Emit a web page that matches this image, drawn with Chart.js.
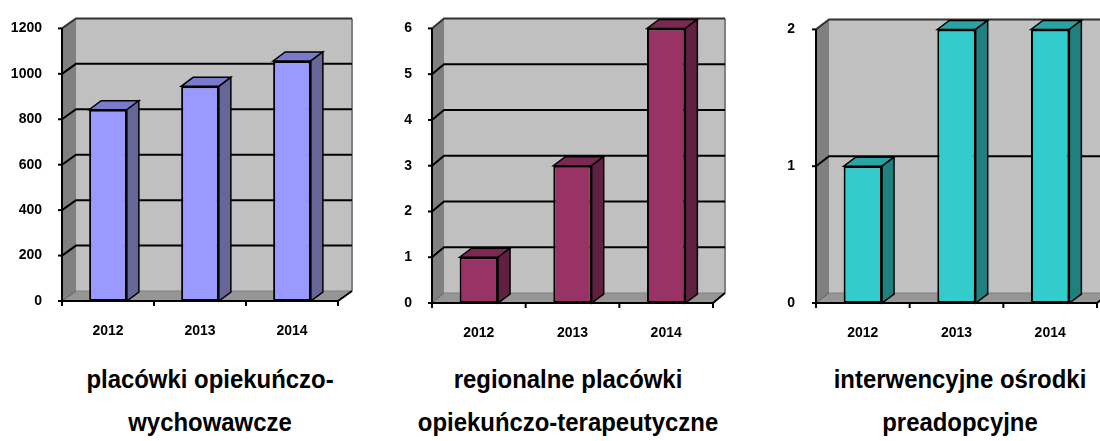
<!DOCTYPE html>
<html lang="pl">
<head>
<meta charset="utf-8">
<title>Placówki</title>
<script src="https://cdn.jsdelivr.net/npm/chart.js@4.4.1/dist/chart.umd.min.js"></script>
<style>
  html, body { margin: 0; padding: 0; background: #fff; }
  body { width: 1100px; height: 441px; position: relative; overflow: hidden; font-family: "Liberation Sans", Arial, sans-serif; }
  canvas { position: absolute; top: 0; }
  .tytul { position: absolute; width: 440px; margin-left: -220px; text-align: center; font-weight: bold; font-size: 26px; line-height: 43px; color: #000; top: 358px; transform: scaleX(0.92); }
</style>
</head>
<body>
<canvas id="wykres1" width="366" height="345" style="left:0px"></canvas>
<canvas id="wykres2" width="370" height="345" style="left:370px"></canvas>
<canvas id="wykres3" width="360" height="345" style="left:740px"></canvas>
<div class="tytul" style="left:210px">placówki opiekuńczo-<br>wychowawcze</div>
<div class="tytul" style="left:568px">regionalne placówki<br>opiekuńczo-terapeutyczne</div>
<div class="tytul" style="left:960px">interwencyjne ośrodki<br>preadopcyjne</div>

<script>
// ======= Dane =======
const lata = ["2012", "2013", "2014"];
const placowkiOW = [842, 945, 1057];
const regionalne = [1, 3, 6];
const interwencyjne = [1, 2, 2];
const maksOW = 1200, krokOW = 200;
const maksReg = 6, krokReg = 1;
const maksInt = 2, krokInt = 1;

// ======= Rysowanie 3D (ściany, podłoga, boki słupków) =======
function wielokat(ctx, pts, fill, stroke, lw) {
  ctx.beginPath();
  ctx.moveTo(pts[0][0], pts[0][1]);
  for (let i = 1; i < pts.length; i++) ctx.lineTo(pts[i][0], pts[i][1]);
  ctx.closePath();
  if (fill) { ctx.fillStyle = fill; ctx.fill(); }
  if (stroke) { ctx.strokeStyle = stroke; ctx.lineWidth = lw || 1; ctx.stroke(); }
}

function linia(ctx, pts, color, lw) {
  ctx.beginPath();
  ctx.moveTo(pts[0][0], pts[0][1]);
  for (let i = 1; i < pts.length; i++) ctx.lineTo(pts[i][0], pts[i][1]);
  ctx.strokeStyle = color;
  ctx.lineWidth = lw;
  ctx.stroke();
}

const efekt3d = {
  id: "efekt3d",
  beforeDatasetsDraw(chart, args, o) {
    const { ctx, chartArea: a, scales: { y } } = chart;
    const dx = o.dx, dy = o.dy;
    ctx.save();
    // tylna ściana
    ctx.fillStyle = "#c0c0c0";
    ctx.fillRect(a.left + dx, a.top - dy, a.right - a.left, a.bottom - a.top);
    linia(ctx, [[a.right + dx, a.top - dy], [a.right + dx, a.bottom - dy]], "#808080", 2);
    // lewa ściana
    wielokat(ctx, [[a.left, a.top], [a.left + dx, a.top - dy], [a.left + dx, a.bottom - dy], [a.left, a.bottom]], "#808080");
    // podłoga
    wielokat(ctx, [[a.left, a.bottom], [a.right, a.bottom], [a.right + dx, a.bottom - dy], [a.left + dx, a.bottom - dy]], "#969696");
    linia(ctx, [[a.left + dx, a.bottom - dy], [a.right + dx, a.bottom - dy]], "#808080", 1);
    linia(ctx, [[a.left, a.bottom], [a.left + dx, a.bottom - dy]], "#5a5a5a", 1);
    // linie siatki
    y.ticks.forEach(t => {
      if (t.value === 0) return;
      const py = y.getPixelForValue(t.value);
      const kolor = t.value === y.max ? "#333333" : "#000000";
      linia(ctx, [[a.left, py], [a.left + dx, py - dy], [a.right + dx, py - dy]], kolor, 2);
    });
    ctx.restore();
  },
  afterDatasetsDraw(chart, args, o) {
    const { ctx, chartArea: a, scales: { x, y } } = chart;
    const bdx = o.bdx, bdy = o.bdy;
    ctx.save();
    ctx.lineJoin = "miter";
    const meta = chart.getDatasetMeta(0);
    meta.data.forEach(bar => {
      const p = bar.getProps(["x", "y", "base", "width"], true);
      const l = p.x - p.width / 2, r = p.x + p.width / 2;
      wielokat(ctx, [[l, p.y], [r, p.y], [r + bdx, p.y - bdy], [l + bdx, p.y - bdy]], o.gora, "#000", 1.5);
      wielokat(ctx, [[r, p.y], [r + bdx, p.y - bdy], [r + bdx, p.base - bdy], [r, p.base]], o.bok, "#000", 1.5);
    });
    // osie
    linia(ctx, [[a.left, a.top], [a.left, a.bottom + 1]], "#000", 2);
    y.ticks.forEach(t => {
      const py = y.getPixelForValue(t.value);
      linia(ctx, [[a.left - 4, py], [a.left, py]], "#000", 2);
    });
    linia(ctx, [[a.left - 1, a.bottom], [a.right, a.bottom]], "#000", 2);
    const n = x.ticks.length;
    const szer = (a.right - a.left) / n;
    for (let i = 0; i <= n; i++) {
      const px = a.left + i * szer;
      linia(ctx, [[px, a.bottom], [px, a.bottom + 5]], "#000", 2);
    }
    linia(ctx, [[a.right, a.bottom], [a.right + o.dx, a.bottom - o.dy]], "#000", 2);
    ctx.restore();
  }
};

// ======= Tworzenie wykresów =======
const czcionkaOsi = { family: "'Liberation Sans', Arial, sans-serif", size: 14, weight: "bold" };

function utworzWykres(id, wartosci, maks, krok, kolory, uklad) {
  const ctx = document.getElementById(id).getContext("2d");
  return new Chart(ctx, {
    type: "bar",
    data: {
      labels: lata,
      datasets: [{
        data: wartosci,
        backgroundColor: kolory.przod,
        borderColor: "#000",
        borderWidth: 2,
        borderSkipped: false,
        categoryPercentage: 1,
        barPercentage: 0.41
      }]
    },
    options: {
      responsive: false,
      animation: false,
      devicePixelRatio: 1,
      layout: { padding: { left: 0, right: uklad.prawy, top: uklad.gora, bottom: 0 } },
      plugins: {
        legend: { display: false },
        tooltip: { enabled: false },
        efekt3d: { dx: uklad.dx, dy: uklad.dy, bdx: uklad.bdx, bdy: uklad.bdy, gora: kolory.gora, bok: kolory.bok }
      },
      scales: {
        x: {
          grid: { display: false, drawTicks: false },
          border: { display: false },
          ticks: { color: "#000", font: czcionkaOsi, padding: 22, maxRotation: 0, autoSkip: false },
          afterFit: s => { s.height = uklad.wysX; }
        },
        y: {
          min: 0,
          max: maks,
          grid: { display: false, drawTicks: false },
          border: { display: false },
          ticks: { stepSize: krok, color: "#000", font: czcionkaOsi, padding: uklad.padY, callback: v => String(v) },
          afterFit: s => { s.width = uklad.szerY; }
        }
      }
    },
    plugins: [efekt3d]
  });
}

utworzWykres("wykres1", placowkiOW, maksOW, krokOW,
  { przod: "#9999ff", gora: "#7a7acc", bok: "#666699" },
  { prawy: 28, gora: 27, wysX: 44, szerY: 62, padY: 20, dx: 14, dy: 10, bdx: 12, bdy: 9 });

utworzWykres("wykres2", regionalne, maksReg, krokReg,
  { przod: "#993366", gora: "#7a2952", bok: "#602040" },
  { prawy: 27, gora: 23, wysX: 42, szerY: 62, padY: 20, dx: 12, dy: 10, bdx: 12, bdy: 9 });

utworzWykres("wykres3", interwencyjne, maksInt, krokInt,
  { przod: "#33cccc", gora: "#29a3a3", bok: "#208080" },
  { prawy: 3, gora: 23, wysX: 42, szerY: 76, padY: 21, dx: 13, dy: 10, bdx: 12, bdy: 9 });
</script>
</body>
</html>
